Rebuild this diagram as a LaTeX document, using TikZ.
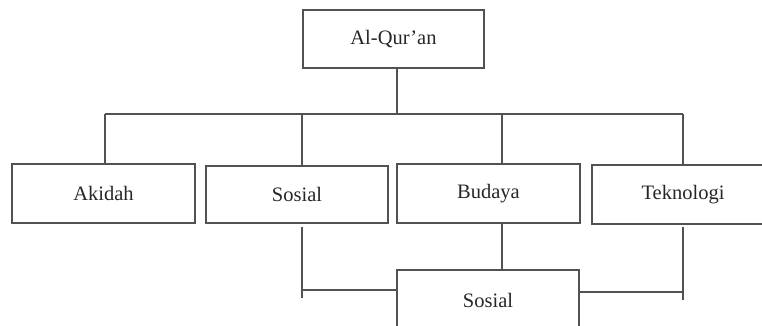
\documentclass[tikz,border=0pt]{standalone}
\usepackage{fontspec}
\setmainfont{Liberation Serif}
\usetikzlibrary{calc}
\begin{document}
\begin{tikzpicture}[x=1pt,y=-1pt,
  box/.style={draw=black!68,line width=1.3pt,minimum width=182pt,minimum height=59pt,inner sep=0pt,font=\fontsize{20.5}{23}\selectfont,text=black!85},
  conn/.style={draw=black!68,line width=1.3pt}]
\path[use as bounding box,clip] (0,0) rectangle (762,326);
\node[box,minimum width=181pt,minimum height=58pt] (top) at (393.5,39) {Al-Qur'an};
\node[box,minimum width=183pt] (aki) at (103.5,193.5) {Akidah};
\node[box,minimum height=57pt] (sos) at (297,194.5) {Sosial};
\node[box,minimum width=183pt] (bud) at (488.5,193.5) {Budaya};
\node[box] (tek) at (683,194.5) {Teknologi};
\node[box,minimum height=60pt] (bot) at (488,300) {Sosial};
\coordinate (xt) at (397,0);
\coordinate (x1) at (105,0);
\coordinate (x2) at (302,0);
\coordinate (x3) at (502,0);
\coordinate (x4) at (683,0);
\coordinate (bus) at (0,114);
\coordinate (low) at (0,227);
\coordinate (lend) at (0,298);
\coordinate (rend) at (0,300);
\coordinate (lh) at (0,290);
\coordinate (rh) at (0,292);
\draw[conn] (top.south -| xt) -- (bus -| xt);
\draw[conn] (bus -| x1) -- (bus -| x4);
\draw[conn] (bus -| x1) -- (aki.north -| x1);
\draw[conn] (bus -| x2) -- (sos.north -| x2);
\draw[conn] (bus -| x3) -- (bud.north -| x3);
\draw[conn] (bus -| x4) -- (tek.north -| x4);
\draw[conn] (bud.south -| x3) -- (bot.north -| x3);
\draw[conn] (low -| x2) -- (lend -| x2);
\draw[conn] (lh -| x2) -- (lh -| bot.west);
\draw[conn] (low -| x4) -- (rend -| x4);
\draw[conn] (rh -| bot.east) -- (rh -| x4);
\end{tikzpicture}
\end{document}
